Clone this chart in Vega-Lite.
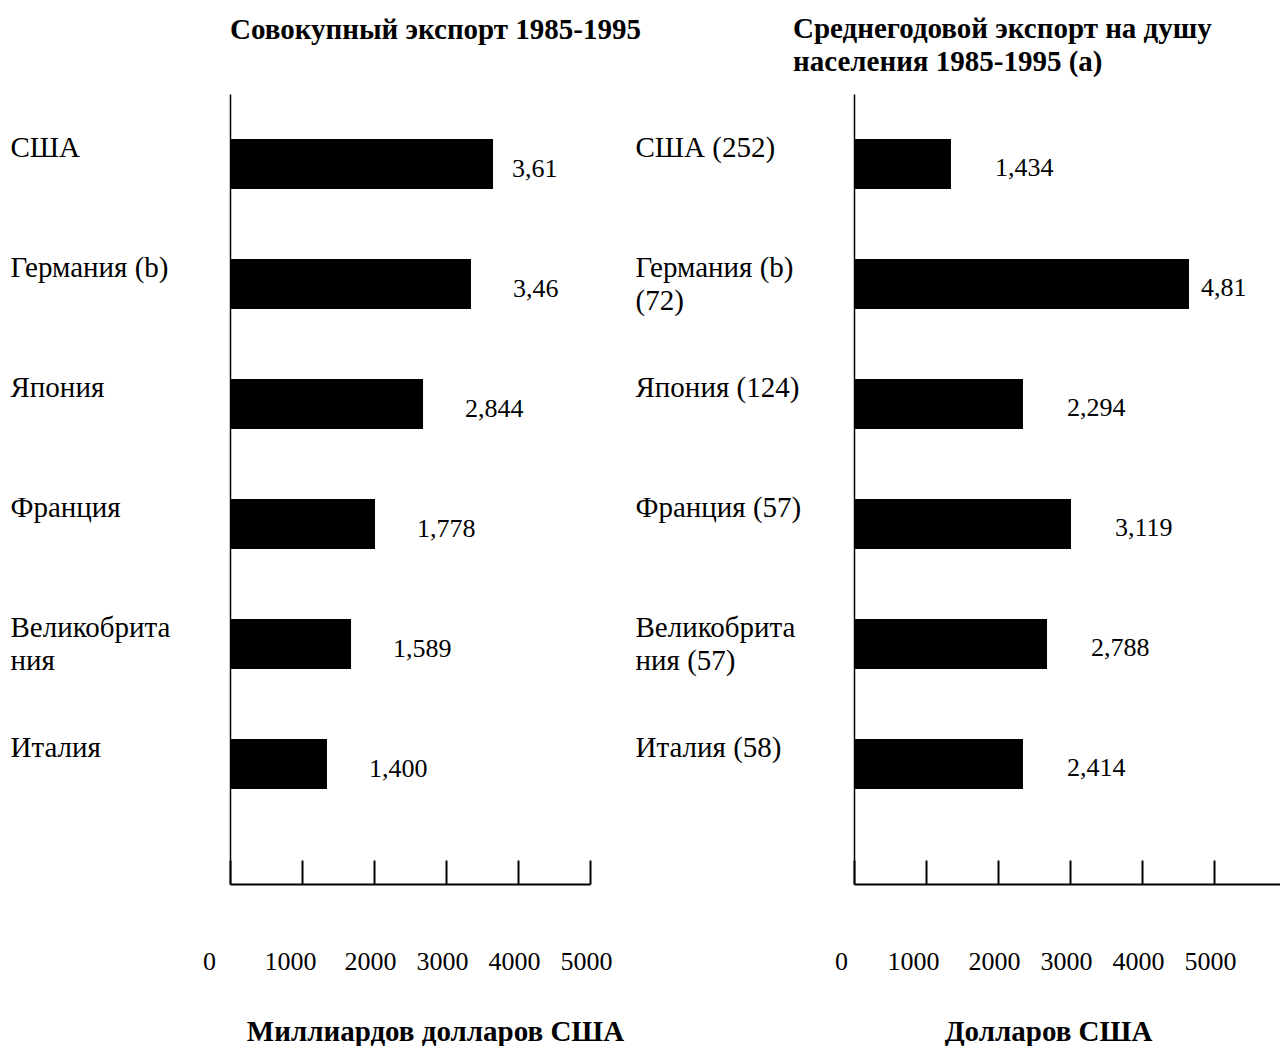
{
  "$schema": "https://vega.github.io/schema/vega-lite/v6.json",
  "autosize": {"type": "pad"},
  "padding": {"left": 10, "top": 15, "right": 0, "bottom": 0},
  "background": "white",
  "bounds": "flush",
  "spacing": 264,
  "config": {
    "font": "Liberation Serif",
    "view": {"stroke": null},
    "axis": {"labelColor": "black", "titleColor": "black", "domainColor": "black", "tickColor": "black", "grid": false}
  },
  "datasets": {
    "total": [
      {"country": "США", "value": 3653, "label": "3,61"},
      {"country": "Германия (b)", "value": 3347, "label": "3,46"},
      {"country": "Япония", "value": 2681, "label": "2,844"},
      {"country": "Франция", "value": 2014, "label": "1,778"},
      {"country": "Великобрита|ния", "value": 1681, "label": "1,589"},
      {"country": "Италия", "value": 1347, "label": "1,400"}
    ],
    "percap": [
      {"country": "США (252)", "value": 1347, "label": "1,434"},
      {"country": "Германия (b)|(72)", "value": 4653, "label": "4,81"},
      {"country": "Япония (124)", "value": 2347, "label": "2,294"},
      {"country": "Франция (57)", "value": 3014, "label": "3,119"},
      {"country": "Великобрита|ния (57)", "value": 2681, "label": "2,788"},
      {"country": "Италия (58)", "value": 2347, "label": "2,414"}
    ]
  },
  "hconcat": [
    {
      "width": 360,
      "height": 790,
      "data": {"name": "total"},
      "title": {"text": "Совокупный экспорт 1985-1995", "anchor": "start", "frame": "group", "baseline": "alphabetic", "offset": 26, "fontSize": 29, "fontWeight": "bold", "font": "Liberation Serif", "color": "black"},
      "encoding": {
        "y": {
          "field": "country", "type": "nominal", "sort": null,
          "scale": {"paddingInner": 0.5833, "paddingOuter": 0.5833, "align": 0.3214},
          "axis": {"title": null, "ticks": false, "domainWidth": 1.5, "labelAlign": "left", "labelPadding": 220, "labelBaseline": "alphabetic", "labelOffset": -7, "labelFontSize": 29, "labelLineHeight": 33, "labelLimit": 0, "labelExpr": "split(datum.label, '|')"}
        },
        "x": {
          "field": "value", "type": "quantitative",
          "scale": {"domain": [0, 5000], "nice": false, "zero": true},
          "axis": {
            "values": [0, 1000, 2000, 3000, 4000, 5000], "format": "d",
            "title": "Миллиардов долларов США", "titleX": 205, "titleY": 156, "titleBaseline": "alphabetic", "titleAlign": "center", "titleFontSize": 29, "titleFontWeight": "bold",
            "domainWidth": 2, "tickWidth": 2, "tickSize": -24,
            "labelPadding": 109, "labelBaseline": "alphabetic", "labelFontSize": 26, "labelFlush": false, "labelOverlap": false,
            "labelOffset": {"condition": [{"test": "datum.value == 0", "value": -21}, {"test": "datum.value == 1000", "value": -12}], "value": -4}
          }
        }
      },
      "layer": [
        {"mark": {"type": "bar", "color": "black"}},
        {"mark": {"type": "text", "align": "left", "baseline": "alphabetic", "dy": 13, "fontSize": 26, "color": "black", "dx": {"expr": "datum.value > 3500 ? 19 : 42"}}, "encoding": {"text": {"field": "label", "type": "nominal"}}}
      ]
    },
    {
      "width": 426,
      "height": 790,
      "data": {"name": "percap"},
      "title": {"text": ["Среднегодовой экспорт на душу", "населения 1985-1995 (a)"], "anchor": "start", "frame": "group", "baseline": "alphabetic", "lineHeight": 33, "dx": -61, "offset": -6, "fontSize": 29, "fontWeight": "bold", "font": "Liberation Serif", "color": "black"},
      "encoding": {
        "y": {
          "field": "country", "type": "nominal", "sort": null,
          "scale": {"paddingInner": 0.5833, "paddingOuter": 0.5833, "align": 0.3214},
          "axis": {"title": null, "ticks": false, "domainWidth": 1.5, "labelAlign": "left", "labelPadding": 219, "labelBaseline": "alphabetic", "labelOffset": -7, "labelFontSize": 29, "labelLineHeight": 33, "labelLimit": 0, "labelExpr": "split(datum.label, '|')"}
        },
        "x": {
          "field": "value", "type": "quantitative",
          "scale": {"domain": [0, 5917], "nice": false, "zero": true},
          "axis": {
            "values": [0, 1000, 2000, 3000, 4000, 5000], "format": "d",
            "title": "Долларов США", "titleX": 194, "titleY": 156, "titleBaseline": "alphabetic", "titleAlign": "center", "titleFontSize": 29, "titleFontWeight": "bold",
            "domainWidth": 2, "tickWidth": 2, "tickSize": -24,
            "labelPadding": 109, "labelBaseline": "alphabetic", "labelFontSize": 26, "labelFlush": false, "labelOverlap": false,
            "labelOffset": {"condition": [{"test": "datum.value == 0", "value": -13}, {"test": "datum.value == 1000", "value": -13}], "value": -4}
          }
        }
      },
      "layer": [
        {"mark": {"type": "bar", "color": "black"}},
        {"mark": {"type": "text", "align": "left", "baseline": "alphabetic", "dy": 12, "fontSize": 26, "color": "black", "dx": {"expr": "datum.value > 4000 ? 12 : 44"}}, "encoding": {"text": {"field": "label", "type": "nominal"}}}
      ]
    }
  ]
}
